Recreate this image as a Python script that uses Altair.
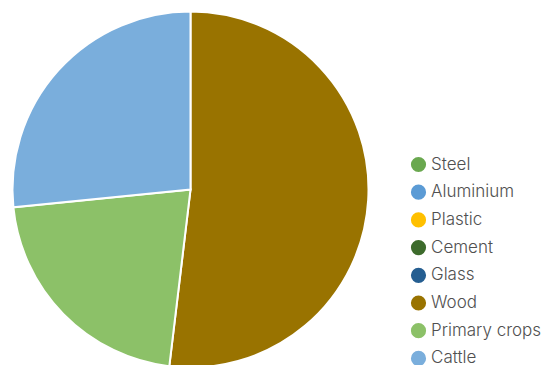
import altair as alt
import pandas as pd

categories = ["Steel", "Aluminium", "Plastic", "Cement", "Glass", "Wood", "Primary crops", "Cattle"]
values = [0, 0, 0, 0, 0, 51.9, 21.5, 26.6]
colors = ["#6aa84f", "#5b9bd5", "#ffc000", "#3d6b2c", "#255e91", "#997300", "#8cc168", "#7aaedc"]

df = pd.DataFrame({"category": categories, "value": values, "order": list(range(len(categories)))})

chart = alt.Chart(df).transform_filter(
    alt.datum.value > 0
).mark_arc(outerRadius=178, stroke="white", strokeWidth=2).encode(
    theta=alt.Theta("value:Q", stack=True),
    order=alt.Order("order:Q"),
    color=alt.Color(
        "category:N",
        scale=alt.Scale(domain=categories, range=colors),
        sort=categories,
        legend=alt.Legend(
            title=None,
            orient="none",
            legendX=410,
            legendY=156,
            symbolType="circle",
            symbolSize=230,
            symbolStrokeWidth=0,
            labelFontSize=17,
            labelFont="Inter",
            labelFontWeight=300,
            labelColor="#505050",
            rowPadding=9.7,
            labelOffset=4,
        ),
    ),
    x=alt.value(190.5),
    y=alt.value(189.5),
).properties(
    width=555, height=365, autosize=alt.AutoSizeParams(type="none"), padding=0
).configure_view(stroke=None)

chart.save("out.html", embed_options={"renderer": "svg", "actions": False})
